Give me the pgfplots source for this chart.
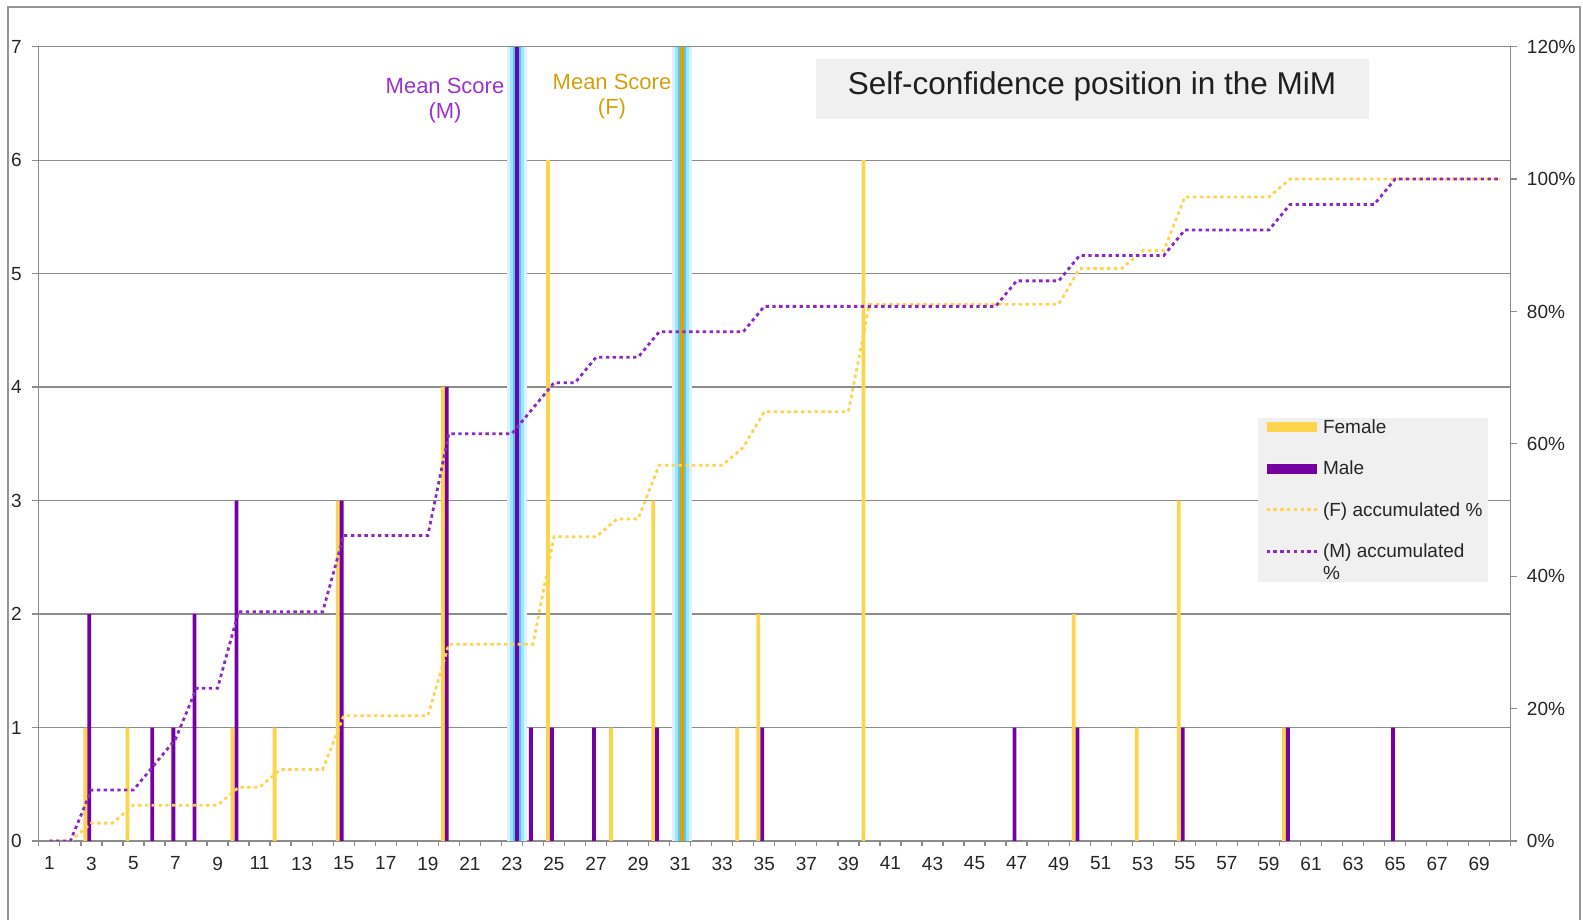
\documentclass[border=0pt]{standalone}
\usepackage{fontspec}
\setmainfont{Liberation Sans}
\usepackage{pgfplots}
\usepackage{pgfplotstable}
\pgfplotsset{compat=1.18}

\definecolor{femaleC}{RGB}{255,212,77}
\definecolor{maleC}{RGB}{116,0,162}
\definecolor{flineC}{RGB}{255,212,80}
\definecolor{mlineC}{RGB}{140,40,195}
\definecolor{meanMC}{RGB}{112,0,170}
\definecolor{meanFC}{RGB}{224,160,0}
\definecolor{glowA}{RGB}{215,244,253}
\definecolor{glowB}{RGB}{160,228,250}
\definecolor{glowC}{RGB}{80,200,243}
\definecolor{txtM}{RGB}{155,50,205}
\definecolor{txtF}{RGB}{210,160,10}
\definecolor{gridC}{RGB}{140,140,140}
\definecolor{frameC}{RGB}{150,150,150}
\definecolor{boxC}{RGB}{240,240,240}

% number of respondents per self-confidence position
\pgfplotstableread{
x f
3 1
5 1
10 1
12 1
15 3
20 4
25 6
28 1
30 3
34 1
35 2
40 6
50 2
53 1
55 3
60 1
}\femaletab

\pgfplotstableread{
x m
3 2
6 1
7 1
8 2
10 3
15 3
20 4
24 1
25 1
27 1
30 1
35 1
47 1
50 1
55 1
60 1
65 1
}\maletab

% accumulated share of respondents (%)
\pgfplotstableread{
x f m
1 0 0
2 0 0
3 2.70 7.69
4 2.70 7.69
5 5.41 7.69
6 5.41 11.54
7 5.41 15.38
8 5.41 23.08
9 5.41 23.08
10 8.11 34.62
11 8.11 34.62
12 10.81 34.62
13 10.81 34.62
14 10.81 34.62
15 18.92 46.15
16 18.92 46.15
17 18.92 46.15
18 18.92 46.15
19 18.92 46.15
20 29.73 61.54
21 29.73 61.54
22 29.73 61.54
23 29.73 61.54
24 29.73 65.38
25 45.95 69.23
26 45.95 69.23
27 45.95 73.08
28 48.65 73.08
29 48.65 73.08
30 56.76 76.92
31 56.76 76.92
32 56.76 76.92
33 56.76 76.92
34 59.46 76.92
35 64.86 80.77
36 64.86 80.77
37 64.86 80.77
38 64.86 80.77
39 64.86 80.77
40 81.08 80.77
41 81.08 80.77
42 81.08 80.77
43 81.08 80.77
44 81.08 80.77
45 81.08 80.77
46 81.08 80.77
47 81.08 84.62
48 81.08 84.62
49 81.08 84.62
50 86.49 88.46
51 86.49 88.46
52 86.49 88.46
53 89.19 88.46
54 89.19 88.46
55 97.30 92.31
56 97.30 92.31
57 97.30 92.31
58 97.30 92.31
59 97.30 92.31
60 100 96.15
61 100 96.15
62 100 96.15
63 100 96.15
64 100 96.15
65 100 100
66 100 100
67 100 100
68 100 100
69 100 100
70 100 100
}\cumtab

\pgfplotsset{
  baseaxis/.style={
    at={(38.8pt,78pt)}, anchor=south west, scale only axis,
    width=1472pt, height=794.3pt,
    xmin=0.5, xmax=70.5,
    axis line style={gridC, line width=1.3pt, -},
    tick style={gridC, line width=1.3pt},
    tick align=outside,
    tick label style={font=\fontsize{19}{22}\selectfont, text=black!85},
    /pgf/number format/assume math mode=true,
  },
  accline/.style={line width=2.8pt, dash pattern=on 3.4pt off 3.4pt},
  % legend sample lifted to the first line of a two-line entry
  raisedlegend/.style={
    legend image code/.code={\draw[##1] (0pt,10.5pt) -- (50pt,10.5pt);}},
}

\begin{document}
\begin{tikzpicture}
\useasboundingbox (0pt,0pt) rectangle (1583pt,919pt);
\begin{scope}
  \clip (0pt,0pt) rectangle (1583pt,919pt);
  \draw[frameC, line width=1.5pt] (8pt,912pt) rectangle (1580pt,-30pt);
\end{scope}

\begin{axis}[baseaxis,
  ymin=0, ymax=7,
  ytick={0,...,7},
  ymajorgrids, grid style={gridC, line width=1.3pt},
  xtick={1,3,...,69},
  minor xtick={0.5,1.5,...,70.5},
  major tick length=7pt, minor tick length=5pt,
  major x tick style={draw=none},
  xtick pos=bottom, ytick pos=left,
  xticklabel style={anchor=north, inner sep=0pt, yshift=-8.7pt},
  yticklabel style={anchor=east, inner sep=0pt, xshift=-10pt},
]
\addplot[ybar, bar width=0.18, bar shift=-0.285, fill=femaleC, draw=none]
  table[x=x, y=f] \femaletab;
\addplot[ybar, bar width=0.18, bar shift=-0.10, fill=maleC, draw=none]
  table[x=x, y=m] \maletab;
% mean score markers with glow
\addplot[glowA, line width=20pt] coordinates {(23.25,0) (23.25,7)};
\addplot[glowB, line width=14pt] coordinates {(23.25,0) (23.25,7)};
\addplot[glowC, line width=8pt] coordinates {(23.25,0) (23.25,7)};
\addplot[meanMC, line width=4pt] coordinates {(23.25,0) (23.25,7)};
\addplot[glowA, line width=20pt] coordinates {(31.07,0) (31.07,7)};
\addplot[glowB, line width=14pt] coordinates {(31.07,0) (31.07,7)};
\addplot[glowC, line width=8pt] coordinates {(31.07,0) (31.07,7)};
\addplot[meanFC, line width=4pt] coordinates {(31.07,0) (31.07,7)};
\end{axis}

\begin{axis}[baseaxis,
  ymin=0, ymax=120,
  axis y line*=right, axis x line=none,
  ytick={0,20,...,120},
  yticklabel={\pgfmathprintnumber{\tick}\%},
  major tick length=6pt,
  yticklabel style={anchor=west, inner sep=0pt, xshift=10pt},
  legend cell align=left,
  legend image code/.code={\draw[#1] (0pt,0pt) -- (50pt,0pt);},
  legend style={at={(0.8278,0.5325)}, anchor=north west,
    fill=boxC, draw=none, inner xsep=4pt, inner ysep=0pt,
    font=\fontsize{19}{22}\selectfont, text=black!85,
    row sep=23pt, cells={align=left},
    nodes={inner sep=1.5pt}},
]
\addlegendimage{femaleC, line width=10pt}
\addlegendentry{Female}
\addlegendimage{maleC, line width=10pt}
\addlegendentry{Male}
\addplot[flineC, accline] table[x=x, y=f] \cumtab;
\addlegendentry{(F) accumulated \%}
\addplot[mlineC, accline, raisedlegend] table[x=x, y=m] \cumtab;
\addlegendentry{(M) accumulated\\\%}
\end{axis}

% chart title
\fill[boxC] (816pt,800pt) rectangle (1369pt,860pt);
\node[font=\fontsize{31.5}{36}\selectfont, text=black!88] at (1092pt,833pt)
  {Self-confidence position in the MiM};

% mean score captions
\node[font=\fontsize{22}{25}\selectfont, text=txtM, align=center] at (445pt,818pt)
  {Mean Score\\(M)};
\node[font=\fontsize{22}{25}\selectfont, text=txtF, align=center] at (612pt,822pt)
  {Mean Score\\(F)};
\end{tikzpicture}
\end{document}
